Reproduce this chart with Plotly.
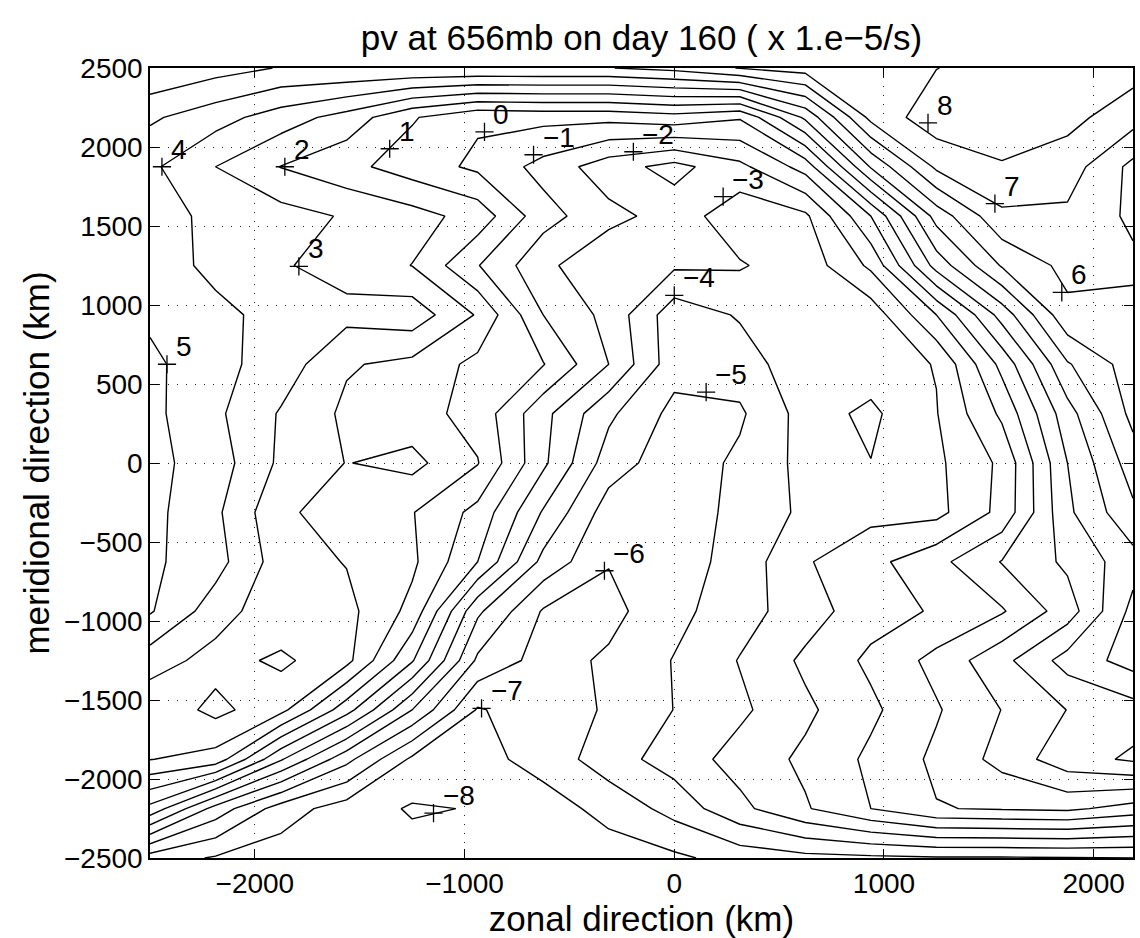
import plotly.graph_objects as go

# model grid (km)
zonal_km = [-2500.0, -2187.5, -1875.0, -1562.5, -1250.0, -937.5, -625.0, -312.5,
            0.0, 312.5, 625.0, 937.5, 1250.0, 1562.5, 1875.0, 2187.5]
meridional_km = [-2500.0, -2187.5, -1875.0, -1562.5, -1250.0, -937.5, -625.0, -312.5,
                 0.0, 312.5, 625.0, 937.5, 1250.0, 1562.5, 1875.0, 2187.5, 2500.0]

# potential vorticity at 656 mb (x 1e-5 /s), one list per meridional grid row, south to north
pv_y_m2500 = [-6.5, -7.1, -7.5, -7.6, -7.62, -7.6, -7.5, -7.4, -7.2, -6.6, -6.3, -6.2, -6.1, -6.1, -6.05, -6.0]
pv_y_m2188 = [-1.3, -4.4, -6.5, -7.5, -8.1, -7.95, -7.4, -6.72, -5.62, -4.26, -3.1, -2.0, -1.05, -0.9, -0.8, -1.4]
pv_y_m1875 = [2.03, 1.6, -1.9, -4.7, -7.2, -7.3, -6.66, -5.43, -4.57, -3.6, -2.8, -1.8, -0.8, 0.33, 1.6, 2.15]
pv_y_m1562 = [2.2, 3.3, 2.3, -0.6, -4.0, -7.1, -6.37, -5.92, -4.98, -4.2, -3.2, -2.2, -1.1, 0.02, 1.02, 1.58]
pv_y_m1250 = [3.5, 2.6, 3.2, 2.3, -0.9, -5.2, -6.4, -5.85, -4.95, -3.95, -2.8, -1.8, -0.7, 0.7, 2.4, 3.4]
pv_y_m938 = [5.1, 3.5, 2.25, 2.3, 0.7, -3.8, -6.1, -6.3, -5.3, -4.4, -3.47, -2.4, -1.9, -1.1, 0.5, 3.3]
pv_y_m625 = [5.2, 4.38, 2.48, 1.95, 1.2, -1.0, -4.3, -5.95, -5.5, -4.6, -3.1, -2.3, -1.3, 0.05, 1.2, 2.6]
pv_y_m312 = [5.3, 4.2, 2.2, 1.5, 1.05, -0.3, -3.1, -5.5, -5.6, -4.7, -3.8, -3.3, -3.3, -1.7, 1.8, 3.8]
pv_y_0 = [5.3, 4.5, 2.8, 1.97, 2.3, 1.05, -1.8, -4.5, -5.6, -4.8, -3.7, -3.98, -3.2, -1.8, 2.0, 4.5]
pv_y_312 = [5.26, 4.2, 2.9, 1.8, 1.4, 0.64, -1.7, -3.8, -5.3, -5.15, -3.6, -4.2, -3.05, -0.8, 2.6, 5.3]
pv_y_625 = [5.24, 4.3, 3.55, 2.1, 1.73, 0.72, 0.05, -2.0, -4.6, -4.5, -3.34, -3.5, -2.95, 0.3, 3.9, 5.5]
pv_y_938 = [4.8, 4.3, 3.6, 3.3, 3.6, 1.9, -1.0, -2.3, -4.6, -3.9, -3.5, -3.6, -1.0, 2.4, 5.75, 5.7]
pv_y_1250 = [4.6, 3.7, 3.1, 2.6, 1.98, 0.05, -1.75, -2.8, -2.85, -2.9, -3.6, -1.8, 2.4, 5.1, 6.3, 6.2]
pv_y_1562 = [4.5, 3.71, 3.4, 2.9, 2.4, 1.6, -0.6, -1.7, -2.4, -3.7, -3.2, 0.0, 4.4, 6.8, 6.8, 5.8]
pv_y_1875 = [4.2, 3.0, 1.97, 1.3, 0.5, -0.2, -1.34, -2.56, -3.35, -2.26, -0.6, 4.1, 7.2, 7.9, 7.5, 5.72]
pv_y_2188 = [5.16, 4.4, 3.5, 2.6, 1.1, 0.15, 0.3, 0.3, 0.6, 0.1, 3.2, 7.3, 8.6, 8.7, 8.3, 7.42]
pv_y_2500 = [6.95, 6.4, 5.94, 5.97, 5.97, 5.97, 5.97, 5.97, 6.3, 7.05, 7.45, 7.7, 7.98, 8.4, 8.5, 8.4]

pv_grid = [pv_y_m2500, pv_y_m2188, pv_y_m1875, pv_y_m1562, pv_y_m1250, pv_y_m938,
           pv_y_m625, pv_y_m312, pv_y_0, pv_y_312, pv_y_625, pv_y_938, pv_y_1250,
           pv_y_1562, pv_y_1875, pv_y_2188, pv_y_2500]

# contour interval
level_min, level_max, level_step = -8, 8, 1

# one labelled point per contour level
label_levels = [8, 7, 6, 5, 4, 3, 2, 1, 0, -1, -2, -3, -4, -5, -6, -7, -8]
label_x_km = [1210, 1529, 1848, -2419, -2443, -1790, -1857, -1357, -905, -671, -195, 233, 0, 152, -333, -919, -1148]
label_y_km = [2153, 1641, 1080, 625, 1875, 1244, 1875, 1989, 2096, 1951, 1970, 1686, 1061, 448, -682, -1553, -2216]

FONT = "Liberation Sans, Arial, Helvetica, sans-serif"


def level_text(v):
    return str(v).replace("-", "\u2212")


fig = go.Figure()

fig.add_trace(go.Contour(
    x=zonal_km, y=meridional_km, z=pv_grid,
    contours=dict(start=level_min, end=level_max, size=level_step, coloring="lines"),
    colorscale=[[0, "black"], [1, "black"]],
    line=dict(width=1.4, smoothing=0),
    showscale=False, hoverinfo="skip",
))

fig.add_trace(go.Scatter(
    x=label_x_km, y=label_y_km, mode="markers",
    marker=dict(symbol="cross-thin", size=13, line=dict(width=1.3, color="black")),
    hoverinfo="skip",
))

for lv, lx, ly in zip(label_levels, label_x_km, label_y_km):
    fig.add_annotation(x=lx, y=ly, text=level_text(lv), showarrow=False,
                       xanchor="left", yanchor="bottom", xshift=7, yshift=0,
                       font=dict(family=FONT, size=28, color="black"))

axis_common = dict(
    showline=True, linecolor="black", linewidth=1.5, mirror="ticks",
    ticks="inside", ticklen=9, tickwidth=1, tickcolor="black",
    showgrid=True, gridcolor="#222", gridwidth=1, griddash="1px,8px",
    zeroline=False, tickfont=dict(family=FONT, size=28, color="black"),
)

fig.update_xaxes(range=[-2500, 2187.5], tickvals=[-2000, -1000, 0, 1000, 2000],
                 title=dict(text="zonal direction (km)", font=dict(family=FONT, size=35), standoff=0),
                 **axis_common)
fig.update_yaxes(range=[-2500, 2500],
                 tickvals=[-2500, -2000, -1500, -1000, -500, 0, 500, 1000, 1500, 2000, 2500],
                 title=dict(text="meridional direction (km)", font=dict(family=FONT, size=35), standoff=4),
                 **axis_common)

fig.update_layout(
    width=1140, height=938,
    margin=dict(l=150, r=5, t=68, b=80),
    plot_bgcolor="white", paper_bgcolor="white",
    showlegend=False,
    title=dict(text="pv at 656mb on day 160 ( x 1.e\u22125/s)", x=0.5, xanchor="center",
               xref="paper", y=1 - 38 / 938, yref="container", yanchor="middle",
               font=dict(family=FONT, size=35, color="black")),
    font=dict(family=FONT, color="black"),
)

fig.write_html("out.html")
